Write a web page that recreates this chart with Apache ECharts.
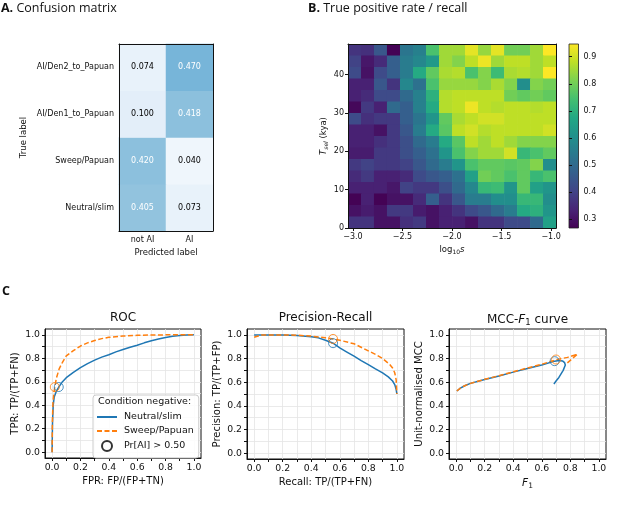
<!DOCTYPE html>
<html><head><meta charset="utf-8">
<script src="https://cdn.jsdelivr.net/npm/echarts@6/dist/echarts.min.js"></script>
<style>html,body{margin:0;padding:0;background:#fff}#c{width:617px;height:522px}</style>
</head><body><div id="c"></div>
<script>
// ---------- A. confusion matrix ----------
const cmTrue = ['Neutral/slim', 'Sweep/Papuan', 'AI/Den1_to_Papuan', 'AI/Den2_to_Papuan'];
const cmPred = ['not AI', 'AI'];
const cmValues = [
  [0.405, 0.073],
  [0.420, 0.040],
  [0.100, 0.418],
  [0.074, 0.470]
];
// ---------- B. TPR heatmap ----------
const logS = [-2.984, -2.853, -2.722, -2.591, -2.459, -2.328, -2.197, -2.066, -1.934, -1.803, -1.672, -1.541, -1.409, -1.278, -1.147, -1.016];
const tsel = [1.5, 4.5, 7.5, 10.5, 13.5, 16.5, 19.5, 22.5, 25.5, 28.5, 31.5, 34.5, 37.5, 40.5, 43.5, 46.5];
// rows listed from top (Tsel 45-48) to bottom (Tsel 0-3)
const tprRowsTopDown = [
  [0.37,0.36,0.45,0.27,0.53,0.56,0.75,0.85,0.85,0.92,0.84,0.92,0.80,0.80,0.85,0.95],
  [0.40,0.31,0.35,0.47,0.55,0.58,0.63,0.85,0.82,0.88,0.93,0.85,0.88,0.88,0.85,0.88],
  [0.42,0.30,0.42,0.47,0.55,0.68,0.78,0.86,0.87,0.75,0.82,0.73,0.86,0.87,0.85,0.95],
  [0.33,0.33,0.45,0.37,0.58,0.52,0.75,0.84,0.84,0.84,0.82,0.86,0.82,0.60,0.82,0.80],
  [0.33,0.35,0.42,0.42,0.50,0.56,0.70,0.87,0.88,0.88,0.88,0.88,0.80,0.78,0.80,0.78],
  [0.28,0.38,0.33,0.50,0.47,0.56,0.68,0.87,0.88,0.93,0.88,0.87,0.88,0.88,0.87,0.88],
  [0.42,0.36,0.38,0.38,0.47,0.53,0.62,0.78,0.86,0.88,0.90,0.90,0.88,0.88,0.88,0.88],
  [0.33,0.33,0.30,0.38,0.45,0.55,0.68,0.77,0.88,0.90,0.87,0.88,0.88,0.88,0.88,0.90],
  [0.33,0.33,0.36,0.38,0.43,0.50,0.55,0.68,0.77,0.88,0.85,0.88,0.85,0.82,0.82,0.82],
  [0.32,0.32,0.38,0.38,0.43,0.47,0.52,0.62,0.75,0.82,0.85,0.85,0.90,0.72,0.75,0.78],
  [0.38,0.40,0.38,0.38,0.40,0.45,0.50,0.55,0.62,0.75,0.78,0.78,0.77,0.78,0.82,0.60],
  [0.35,0.38,0.33,0.33,0.35,0.42,0.45,0.47,0.52,0.65,0.80,0.78,0.75,0.78,0.72,0.75],
  [0.33,0.33,0.33,0.31,0.40,0.38,0.38,0.43,0.50,0.58,0.72,0.73,0.62,0.78,0.65,0.62],
  [0.27,0.33,0.27,0.30,0.30,0.35,0.47,0.37,0.45,0.55,0.55,0.60,0.60,0.72,0.72,0.60],
  [0.30,0.32,0.30,0.38,0.38,0.32,0.30,0.33,0.37,0.42,0.45,0.50,0.55,0.68,0.70,0.62],
  [0.37,0.37,0.30,0.30,0.36,0.38,0.30,0.33,0.33,0.30,0.37,0.37,0.42,0.42,0.50,0.65]
];
const cbRange = [0.267, 0.947];
const logSTicks = [-3.0, -2.5, -2.0, -1.5, -1.0];
const tselTicks = [0, 10, 20, 30, 40];
const cbTicks = [0.3, 0.4, 0.5, 0.6, 0.7, 0.8, 0.9];
// ---------- C. curves ----------
const rocNeutral = [[0,0],[0.003,0.25],[0.008,0.40],[0.015,0.47],[0.03,0.52],[0.047,0.555],[0.07,0.595],[0.1,0.635],[0.15,0.68],[0.2,0.72],[0.25,0.755],[0.3,0.785],[0.35,0.81],[0.4,0.83],[0.45,0.855],[0.5,0.875],[0.55,0.895],[0.6,0.912],[0.65,0.932],[0.7,0.95],[0.75,0.965],[0.8,0.978],[0.85,0.988],[0.9,0.995],[0.95,0.998],[1,1]];
const rocSweep = [[0,0],[0.002,0.25],[0.006,0.42],[0.012,0.50],[0.019,0.555],[0.03,0.63],[0.05,0.71],[0.075,0.77],[0.1,0.82],[0.15,0.865],[0.2,0.905],[0.25,0.932],[0.3,0.952],[0.35,0.968],[0.4,0.979],[0.5,0.99],[0.6,0.996],[0.7,0.999],[0.8,1],[1,1]];
const prNeutral = [[0,1.0],[0.05,1.0],[0.1,1.0],[0.2,0.999],[0.3,0.995],[0.4,0.985],[0.45,0.975],[0.5,0.955],[0.553,0.93],[0.6,0.89],[0.65,0.855],[0.7,0.82],[0.75,0.783],[0.8,0.748],[0.85,0.712],[0.9,0.678],[0.94,0.645],[0.97,0.61],[0.985,0.58],[0.995,0.54],[1.0,0.5]];
const prSweep = [[0,0.98],[0.01,0.985],[0.05,1.0],[0.1,1.0],[0.2,1.0],[0.3,0.997],[0.4,0.99],[0.5,0.975],[0.553,0.966],[0.6,0.955],[0.7,0.925],[0.8,0.865],[0.85,0.835],[0.9,0.80],[0.95,0.75],[0.97,0.72],[0.985,0.68],[0.995,0.62],[1.0,0.5]];
const mccNeutral = [[0.005,0.525],[0.03,0.55],[0.06,0.57],[0.1,0.59],[0.2,0.622],[0.3,0.652],[0.4,0.685],[0.5,0.715],[0.6,0.745],[0.69,0.778],[0.72,0.783],[0.745,0.78],[0.76,0.765],[0.765,0.745],[0.75,0.70],[0.72,0.64],[0.70,0.61],[0.685,0.585]];
const mccSweep = [[0.005,0.525],[0.03,0.55],[0.06,0.57],[0.1,0.59],[0.2,0.624],[0.3,0.655],[0.4,0.688],[0.5,0.72],[0.6,0.752],[0.7,0.79],[0.78,0.81],[0.85,0.837],[0.776,0.76]];
const thrNeutral = { roc: [0.047, 0.555], pr: [0.553, 0.93], mcc: [0.69, 0.778] };
const thrSweep = { roc: [0.019, 0.555], pr: [0.553, 0.966], mcc: [0.70, 0.792] };
const unitTicks = [0, 0.2, 0.4, 0.6, 0.8, 1.0];
const unitMinor = [0, 0.1, 0.2, 0.3, 0.4, 0.5, 0.6, 0.7, 0.8, 0.9, 1.0];

// ---------- styles ----------
const BLUE = '#1f77b4', ORANGE = '#ff7f0e';
const FONT = 'DejaVu Sans';
const blues = ['#f7fbff','#deebf7','#c6dbef','#9ecae1','#6baed6','#4292c6','#2171b5','#08519c','#08306b'];
const viridis = ['#440154','#482475','#414487','#355f8d','#2a788e','#21918c','#22a884','#44bf70','#7ad151','#bddf26','#fde725'];

const chart = echarts.init(document.getElementById('c'), null, { renderer: 'canvas' });

// build data
const cmData = [];
cmValues.forEach((row, yi) => row.forEach((v, xi) => {
  cmData.push({ value: [xi, yi, v], label: { color: v > 0.235 ? '#fff' : '#000' } });
}));
const tprData = [];
tprRowsTopDown.forEach((row, r) => {
  const yi = tsel.length - 1 - r;
  row.forEach((v, xi) => tprData.push([logS[xi], tsel[yi], v]));
});
const dX = logS[1] - logS[0];
const dY = tsel[1] - tsel[0];
const xMinB = logS[0] - dX / 2, xMaxB = logS[logS.length - 1] + dX / 2;
const yMinB = tsel[0] - dY / 2, yMaxB = tsel[tsel.length - 1] + dY / 2;

const axisTxt = { color: '#111', fontFamily: FONT };
function frameAxis(type, grid, pos, extra) {
  return Object.assign({
    type: type, gridIndex: grid, position: pos, z: 10,
    axisLine: { show: true, onZero: false, lineStyle: { color: '#111', width: 1 } },
    axisTick: { show: false }, axisLabel: { show: false }, splitLine: { show: false }
  }, extra || {});
}
function unitX(grid, name) {
  return {
    type: 'value', gridIndex: grid, min: -0.05, max: 1.05,
    name: name, nameLocation: 'middle', nameGap: 18,
    nameTextStyle: { fontSize: 10, color: '#111', fontFamily: FONT, rich: { i: { fontStyle: 'italic', fontSize: 10.5, fontFamily: FONT, color: '#111' }, sub: { fontSize: 7.5, padding: [5, 0, 0, 0], fontFamily: FONT, color: '#111' } } },
    axisLine: { show: true, onZero: false, lineStyle: { color: '#111' } },
    axisTick: { show: true, length: 3, customValues: unitMinor, lineStyle: { color: '#111' } },
    axisLabel: { customValues: unitTicks, fontSize: 9.3, margin: 5, formatter: v => v.toFixed(1), ...axisTxt },
    splitLine: { show: true, lineStyle: { color: '#e4e4e4', width: 0.8 } }
  };
}
function unitY(grid, name) {
  return {
    type: 'value', gridIndex: grid, min: -0.05, max: 1.05,
    name: name, nameLocation: 'middle', nameGap: 25,
    nameTextStyle: { fontSize: 10, color: '#111', fontFamily: FONT },
    axisLine: { show: true, onZero: false, lineStyle: { color: '#111' } },
    axisTick: { show: true, length: 3, customValues: unitMinor, lineStyle: { color: '#111' } },
    axisLabel: { customValues: unitTicks, fontSize: 9.3, margin: 5, formatter: v => v.toFixed(1), ...axisTxt },
    splitLine: { show: true, lineStyle: { color: '#e4e4e4', width: 0.8 } }
  };
}

const grids = [
  { left: 119, top: 44, width: 94, height: 187 },
  { left: 348, top: 44, width: 208, height: 184 },
  { left: 569, top: 44, width: 9.5, height: 184 },
  { left: 45, top: 329, width: 156, height: 129, show: true, borderColor: '#111', borderWidth: 1 },
  { left: 247, top: 329, width: 157, height: 130, show: true, borderColor: '#111', borderWidth: 1 },
  { left: 449, top: 329, width: 157, height: 130, show: true, borderColor: '#111', borderWidth: 1 }
];

const xAxes = [
  { type: 'category', gridIndex: 0, data: cmPred, z: 10,
    name: 'Predicted label', nameLocation: 'middle', nameGap: 17,
    nameTextStyle: { fontSize: 8.5, ...axisTxt },
    axisLine: { lineStyle: { color: '#111' } },
    axisTick: { alignWithLabel: true, length: 3, lineStyle: { color: '#111' } },
    axisLabel: { fontSize: 8, margin: 5, ...axisTxt }, splitLine: { show: false } },
  { type: 'value', gridIndex: 1, min: xMinB, max: xMaxB, z: 10,
    name: 'log{sub|10}{i|s}', nameLocation: 'middle', nameGap: 16,
    nameTextStyle: { fontSize: 8.5, ...axisTxt, rich: { sub: { fontSize: 6, padding: [5, 0, 0, 0], ...axisTxt }, i: { fontStyle: 'italic', fontSize: 8.5, ...axisTxt } } },
    axisLine: { onZero: false, lineStyle: { color: '#111' } },
    axisTick: { customValues: logSTicks, length: 3, lineStyle: { color: '#111' } },
    axisLabel: { customValues: logSTicks, fontSize: 8, margin: 5, formatter: v => (v < 0 ? '\u2212' : '') + Math.abs(v).toFixed(1), ...axisTxt },
    splitLine: { show: false } },
  { type: 'value', gridIndex: 2, min: 0, max: 1, show: false },
  unitX(3, 'FPR: FP/(FP+TN)'),
  unitX(4, 'Recall: TP/(TP+FN)'),
  unitX(5, '{i|F}{sub|1}'),
  frameAxis('category', 0, 'top', { data: cmPred }),
  frameAxis('value', 1, 'top', { min: xMinB, max: xMaxB })
];
const yAxes = [
  { type: 'category', gridIndex: 0, data: cmTrue, z: 10,
    name: 'True label', nameLocation: 'middle', nameGap: 91,
    nameTextStyle: { fontSize: 8.5, ...axisTxt },
    axisLine: { lineStyle: { color: '#111' } },
    axisTick: { alignWithLabel: true, length: 3, lineStyle: { color: '#111' } },
    axisLabel: { fontSize: 8, margin: 5, ...axisTxt }, splitLine: { show: false } },
  { type: 'value', gridIndex: 1, min: yMinB, max: yMaxB, z: 10,
    name: '{i|T}{sub|sel} (kya)', nameLocation: 'middle', nameGap: 19,
    nameTextStyle: { fontSize: 8.5, ...axisTxt, rich: { i: { fontStyle: 'italic', fontSize: 8.5, ...axisTxt }, sub: { fontStyle: 'italic', fontSize: 6, padding: [5, 0, 0, 0], ...axisTxt } } },
    axisLine: { onZero: false, lineStyle: { color: '#111' } },
    axisTick: { customValues: tselTicks, length: 3, lineStyle: { color: '#111' } },
    axisLabel: { customValues: tselTicks, fontSize: 8, margin: 4, ...axisTxt },
    splitLine: { show: false } },
  { type: 'value', gridIndex: 2, min: cbRange[0], max: cbRange[1], position: 'right', z: 10,
    axisLine: { show: false },
    axisTick: { show: true, customValues: cbTicks, length: 3, lineStyle: { color: '#111' } },
    axisLabel: { customValues: cbTicks, fontSize: 8, margin: 5, formatter: v => v.toFixed(1), ...axisTxt },
    splitLine: { show: false } },
  unitY(3, 'TPR: TP/(TP+FN)'),
  unitY(4, 'Precision: TP/(TP+FP)'),
  unitY(5, 'Unit-normalised MCC'),
  frameAxis('category', 0, 'right', { data: cmTrue }),
  frameAxis('value', 1, 'right', { min: yMinB, max: yMaxB })
];

function lineSeries(name, data, xi, color, dashed) {
  return { type: 'line', name: name, xAxisIndex: xi, yAxisIndex: xi, data: data,
    symbol: 'none', smooth: false, z: 3,
    lineStyle: { color: color, width: 1.5, type: dashed ? [5, 2.5] : 'solid' },
    itemStyle: { color: color } };
}
function thrSeries(pt, xi, color) {
  return { type: 'scatter', name: 'thr', xAxisIndex: xi, yAxisIndex: xi, data: [pt],
    symbol: 'circle', symbolSize: 9, z: 4,
    itemStyle: { color: 'rgba(0,0,0,0)', borderColor: color, borderWidth: 1 } };
}

const series = [
  { type: 'heatmap', xAxisIndex: 0, yAxisIndex: 0, data: cmData,
    label: { show: true, fontSize: 8, fontFamily: FONT, formatter: p => p.value[2].toFixed(3) } },
  { type: 'custom', xAxisIndex: 1, yAxisIndex: 1, data: tprData,
    renderItem: function (params, api) {
      const x = api.value(0), y = api.value(1);
      const p0 = api.coord([x - dX / 2, y + dY / 2]);
      const p1 = api.coord([x + dX / 2, y - dY / 2]);
      return { type: 'rect', shape: { x: p0[0], y: p0[1], width: p1[0] - p0[0] + 0.6, height: p1[1] - p0[1] + 0.6 },
        style: { fill: api.visual('color') } };
    } },
  { type: 'custom', xAxisIndex: 2, yAxisIndex: 2, data: [[0, 1, cbRange[0], cbRange[1]]],
    renderItem: function (params, api) {
      const p0 = api.coord([api.value(0), api.value(3)]);
      const p1 = api.coord([api.value(1), api.value(2)]);
      const stops = viridis.map((c, i) => ({ offset: i / (viridis.length - 1), color: c }));
      return { type: 'rect', shape: { x: p0[0], y: p0[1], width: p1[0] - p0[0], height: p1[1] - p0[1] },
        style: { fill: new echarts.graphic.LinearGradient(0, 1, 0, 0, stops), stroke: '#222', lineWidth: 0.8 } };
    } },
  lineSeries('Neutral/slim', rocNeutral, 3, BLUE, false),
  lineSeries('Sweep/Papuan', rocSweep, 3, ORANGE, true),
  { type: 'scatter', name: 'Pr[AI] > 0.50', xAxisIndex: 3, yAxisIndex: 3, data: [],
    symbol: 'circle', symbolSize: 10,
    itemStyle: { color: 'rgba(0,0,0,0)', borderColor: '#000', borderWidth: 1.1 } },
  thrSeries(thrNeutral.roc, 3, BLUE),
  thrSeries(thrSweep.roc, 3, ORANGE),
  lineSeries('pr-n', prNeutral, 4, BLUE, false),
  lineSeries('pr-s', prSweep, 4, ORANGE, true),
  thrSeries(thrNeutral.pr, 4, BLUE),
  thrSeries(thrSweep.pr, 4, ORANGE),
  lineSeries('mcc-n', mccNeutral, 5, BLUE, false),
  lineSeries('mcc-s', mccSweep, 5, ORANGE, true),
  thrSeries(thrNeutral.mcc, 5, BLUE),
  thrSeries(thrSweep.mcc, 5, ORANGE)
];

const titleBase = { fontFamily: FONT, color: '#111', fontWeight: 'normal' };
const panelTitle = { fontFamily: 'Open Sans', fontSize: 12.5, fontWeight: 'normal', color: '#111', rich: { b: { fontFamily: 'Open Sans', fontWeight: 'bold', fontSize: 12.5, color: '#111' } } };
const option = {
  animation: false,
  backgroundColor: '#fff',
  grid: grids,
  xAxis: xAxes,
  yAxis: yAxes,
  visualMap: [
    { type: 'continuous', show: false, seriesIndex: 0, dimension: 2, min: 0, max: 1, inRange: { color: blues } },
    { type: 'continuous', show: false, seriesIndex: 1, dimension: 2, min: cbRange[0], max: cbRange[1], inRange: { color: viridis } }
  ],
  title: [
    { text: '{b|A.} Confusion matrix', left: 1, top: 2, padding: 0, textStyle: panelTitle },
    { text: '{b|B.} True positive rate / recall', left: 308, top: 2, padding: 0, textStyle: panelTitle },
    { text: 'C', left: 2, top: 285, padding: 0, textStyle: { fontFamily: 'Open Sans', fontSize: 12.5, fontWeight: 'bold', color: '#111' } },
    { text: 'ROC', left: 123, top: 312, padding: 0, textAlign: 'center', textStyle: { ...titleBase, fontSize: 12 } },
    { text: 'Precision-Recall', left: 325.5, top: 312, padding: 0, textAlign: 'center', textStyle: { ...titleBase, fontSize: 12 } },
    { text: 'MCC-{i|F}{sub|1} curve', left: 527.5, top: 312, padding: 0, textAlign: 'center', textStyle: { ...titleBase, fontSize: 12, rich: { i: { fontStyle: 'italic', fontSize: 12, fontFamily: FONT, color: '#111' }, sub: { fontSize: 8.5, padding: [6, 0, 0, 0], fontFamily: FONT, color: '#111' } } } }
  ],
  legend: {
    data: [
      { name: 'Neutral/slim', itemStyle: { opacity: 0 } },
      { name: 'Sweep/Papuan', itemStyle: { opacity: 0 } },
      { name: 'Pr[AI] > 0.50' }
    ],
    orient: 'vertical', left: 93, top: 395,
    padding: [17, 5, 6, 3], itemGap: 4, itemWidth: 20, itemHeight: 10,
    backgroundColor: 'rgba(255,255,255,0.85)', borderColor: '#cccccc', borderWidth: 1, borderRadius: 3,
    textStyle: { fontSize: 9.5, fontFamily: FONT, color: '#111', padding: [0, 0, 0, 2] },
    selectedMode: false
  },
  graphic: [
    { type: 'text', left: 98, top: 397, z: 100, style: { text: 'Condition negative:', fontSize: 9.5, fontFamily: FONT, fill: '#111' } }
  ],
  series: series
};
chart.setOption(option);
</script></body></html>
